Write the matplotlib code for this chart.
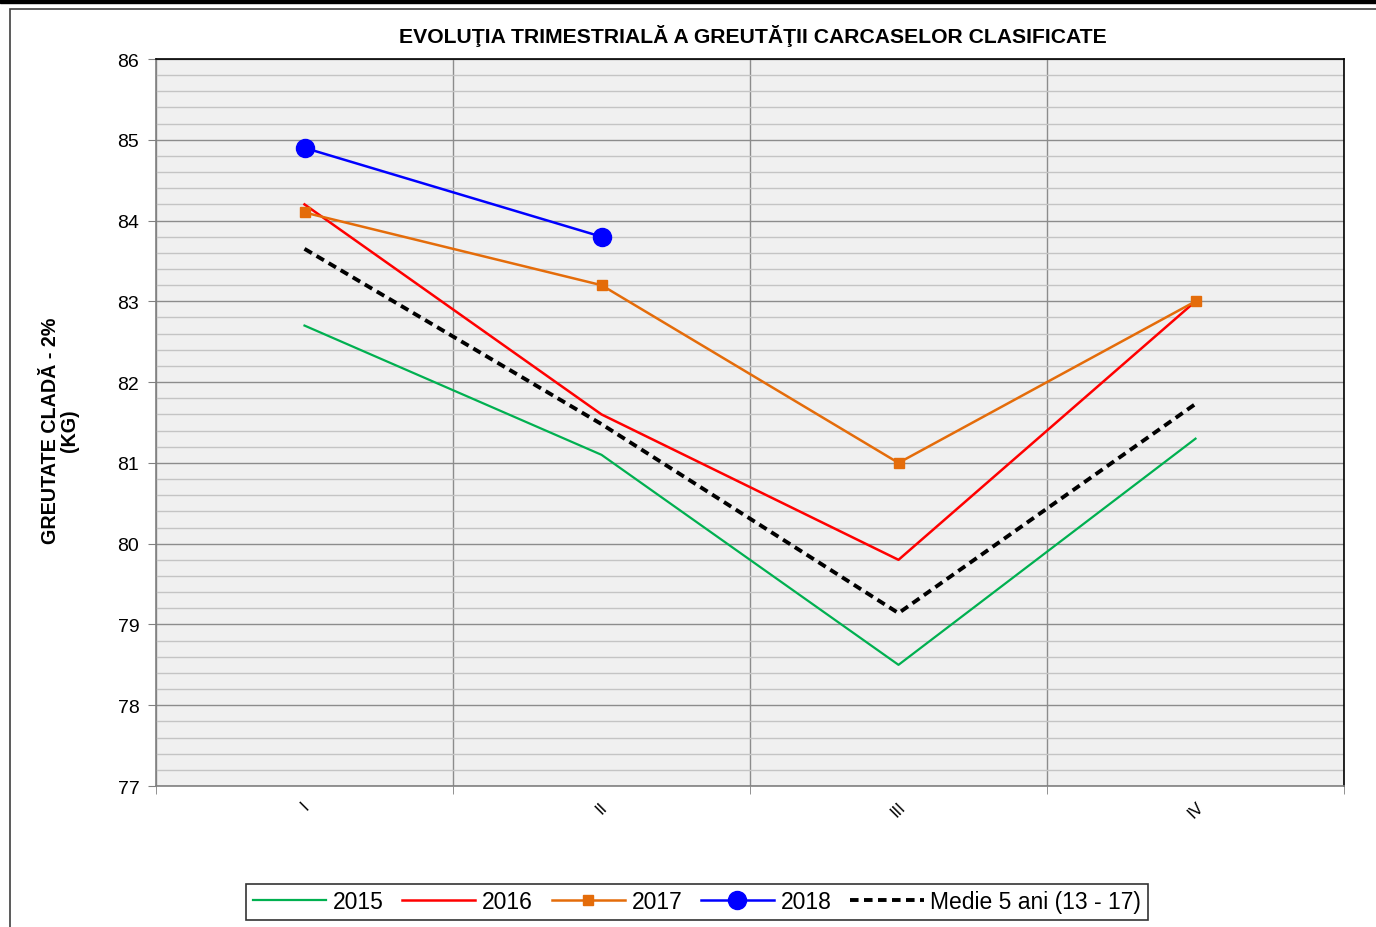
import matplotlib.pyplot as plt
from matplotlib.patches import Rectangle
import numpy as np

plt.rcParams['font.family'] = ['Liberation Sans', 'DejaVu Sans']

# quarters and series values (kg)
quarters = ["I", "II", "III", "IV"]
y2015 = [82.7, 81.1, 78.5, 81.3]
y2016 = [84.2, 81.6, 79.8, 83.0]
y2017 = [84.1, 83.2, 81.0, 83.0]
y2018 = [84.9, 83.8]
medie = [83.65, 81.48, 79.14, 81.73]

fig = plt.figure(figsize=(13.76, 9.28), dpi=100)

# outer frame + thick top bar like the source document
fig.patches.append(Rectangle((10 / 1376, -0.05), 1.1, 1 - 10 / 928 + 0.05,
                             transform=fig.transFigure, fill=False,
                             edgecolor='#404040', linewidth=1.2))
fig.patches.append(Rectangle((0, 1 - 4 / 928), 1, 4 / 928,
                             transform=fig.transFigure, color='black'))

ax = fig.add_axes([156 / 1376, 1 - 787 / 928, 1188 / 1376, 727 / 928])
ax.set_facecolor('#f0f0f0')

x = np.arange(len(quarters))
ax.plot(x, y2015, color='#00b050', lw=1.6, label='2015')
ax.plot(x, y2016, color='#ff0000', lw=1.8, label='2016')
ax.plot(x, y2017, color='#e46c0a', lw=1.8, marker='s', ms=7, label='2017')
ax.plot(x[:len(y2018)], y2018, color='#0000ff', lw=1.8, marker='o', ms=13, label='2018')
ax.plot(x, medie, color='black', lw=2.8, ls=(0, (2.2, 1.4)), label='Medie 5 ani (13 - 17)')

ax.set_xlim(-0.5, 3.5)
ax.set_ylim(77, 86)

# y grid: major every 1, minor every 0.2
ax.set_yticks(np.arange(77, 87, 1))
ax.set_yticks(np.arange(77, 86.01, 0.2), minor=True)
ax.grid(axis='y', which='major', color='#8c8c8c', lw=1.0)
ax.grid(axis='y', which='minor', color='#c4c4c4', lw=1.0)
ax.tick_params(axis='y', which='major', length=6, color='#808080', labelsize=14, pad=6)
ax.tick_params(axis='y', which='minor', length=0)

# x: labels at centres, ticks/grid at category boundaries
ax.set_xticks(x)
ax.set_xticklabels(quarters, rotation=45, fontsize=12)
ax.set_xticks(np.arange(-0.5, 3.6, 1), minor=True)
ax.tick_params(axis='x', which='major', length=0, pad=9)
ax.tick_params(axis='x', which='minor', length=6, color='#808080')
ax.grid(axis='x', which='minor', color='#8c8c8c', lw=1.0)
ax.set_axisbelow(True)

ax.spines['left'].set_color('#808080')
ax.spines['bottom'].set_color('#808080')
ax.spines['top'].set_color('black')
ax.spines['right'].set_color('black')
for s in ax.spines.values():
    s.set_linewidth(1.2)

fig.text(753 / 1376, 1 - 36 / 928, 'EVOLUŢIA TRIMESTRIALĂ A GREUTĂŢII CARCASELOR CLASIFICATE',
         ha='center', va='center', fontsize=15.2, fontweight='bold')
fig.text(60 / 1376, 1 - 431 / 928, 'GREUTATE CLADĂ - 2%\n(KG)', rotation=90,
         ha='center', va='center', fontsize=14.2, fontweight='bold', linespacing=1.0)

leg = fig.legend(loc='center', bbox_to_anchor=(697 / 1376, 1 - 903 / 928), ncol=5,
                 fontsize=16.5, frameon=True, fancybox=False, edgecolor='black',
                 handlelength=3.2, columnspacing=0.8, handletextpad=0.3,
                 borderpad=0.3)
leg.get_frame().set_linewidth(1.2)

fig.savefig('out.png', dpi=100)
